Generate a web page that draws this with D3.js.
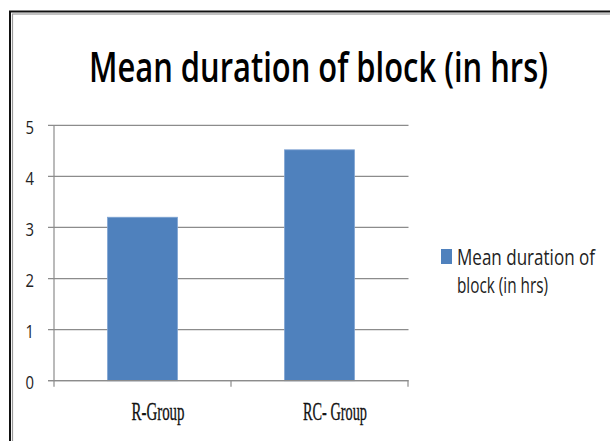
<!DOCTYPE html>
<html>
<head>
<meta charset="utf-8">
<script src="https://cdn.jsdelivr.net/npm/d3@7"></script>
<style>
  body { margin: 0; background: #fff; }
  svg { display: block; }
  text { font-variant-ligatures: none; }
</style>
</head>
<body>
<svg id="chart" width="610" height="441"></svg>
<script>
// data
var categories = ["R-Group", "RC- Group"]
var values = [3.2, 4.52]
var yTicks = [0, 1, 2, 3, 4, 5]
var titleText = "Mean duration of block (in hrs)"
var legendLines = ["Mean duration of", "block (in hrs)"]

var svg = d3.select("svg#chart")
var barColor = "#4f81bd"
var gridColor = "#8c8c8c"
var sans = "'Open Sans', Lato, sans-serif"

// frame (double line, runs off the right and bottom edge)
svg.append("rect")
    .attr("x", 10).attr("y", 11.5)
    .attr("width", 640).attr("height", 460)
    .attr("fill", "none").attr("stroke", "#111").attr("stroke-width", 2)
svg.append("rect")
    .attr("x", 12.5).attr("y", 14)
    .attr("width", 640).attr("height", 460)
    .attr("fill", "none").attr("stroke", "#9a9a9a").attr("stroke-width", 1.2)

// title
svg.append("text")
    .attr("x", 89).attr("y", 81.5)
    .attr("font-family", sans)
    .attr("font-weight", 600)
    .attr("font-size", 42)
    .attr("fill", "#000")
    .attr("textLength", 459)
    .attr("lengthAdjust", "spacingAndGlyphs")
    .text(titleText)

var y = d3.scaleLinear().domain([0, 5]).range([380.7, 125.3])
var x = d3.scaleBand().domain(categories).range([54, 408])
    .paddingInner(0.605).paddingOuter(0.3025)

// gridlines + y labels
var grid = svg.append("g")
grid.selectAll("line.grid")
    .data(yTicks).enter()
    .append("line")
    .attr("class", "grid")
    .attr("x1", 48).attr("x2", 408.5)
    .attr("y1", function(d){ return y(d); })
    .attr("y2", function(d){ return y(d); })
    .attr("stroke", gridColor)
    .attr("stroke-width", 1.2)

grid.selectAll("text.ylab")
    .data(yTicks).enter()
    .append("text")
    .attr("class", "ylab")
    .attr("x", 34).attr("y", function(d){ return y(d) + 8.5; })
    .attr("text-anchor", "end")
    .attr("font-family", sans)
    .attr("font-size", 19)
    .attr("fill", "#222")
    .attr("textLength", 8.5)
    .attr("lengthAdjust", "spacingAndGlyphs")
    .text(function(d){ return d; })

// y axis line
svg.append("line")
    .attr("x1", 54).attr("x2", 54)
    .attr("y1", y(5)).attr("y2", y(0))
    .attr("stroke", gridColor).attr("stroke-width", 1.2)

// bars
svg.selectAll("rect.bar")
    .data(values).enter()
    .append("rect")
    .attr("class", "bar")
    .attr("x", function(d, i){ return x(categories[i]); })
    .attr("y", function(d){ return y(d); })
    .attr("width", x.bandwidth())
    .attr("height", function(d){ return y(0) - y(d); })
    .attr("fill", barColor)
    .attr("stroke", "#7fa3d3")
    .attr("stroke-width", 0.8)

// x axis with ticks at band boundaries
var xAxis = svg.append("g")
xAxis.append("line")
    .attr("x1", 48).attr("x2", 408.5)
    .attr("y1", y(0)).attr("y2", y(0))
    .attr("stroke", gridColor).attr("stroke-width", 1.2)
var bounds = [54].concat(categories.map(function(c){ return x(c) + x.bandwidth() + x.step() * x.paddingInner() / 2; }))
xAxis.selectAll("line.tick")
    .data(bounds).enter()
    .append("line")
    .attr("class", "tick")
    .attr("x1", function(d){ return d; })
    .attr("x2", function(d){ return d; })
    .attr("y1", y(0)).attr("y2", y(0) + 6)
    .attr("stroke", gridColor).attr("stroke-width", 1.2)

var labelWidths = [53, 64]
xAxis.selectAll("text.xlab")
    .data(categories).enter()
    .append("text")
    .attr("class", "xlab")
    .attr("x", function(d){ return x(d) + x.bandwidth() / 2 + 15.5; })
    .attr("y", 420)
    .attr("text-anchor", "middle")
    .attr("font-family", "'Liberation Serif', 'DejaVu Serif', serif")
    .attr("font-size", 25)
    .attr("fill", "#111")
    .attr("stroke", "#111").attr("stroke-width", 0.3)
    .attr("textLength", function(d, i){ return labelWidths[i]; })
    .attr("lengthAdjust", "spacingAndGlyphs")
    .text(function(d){ return d; })

// legend
var legend = svg.append("g")
legend.append("rect")
    .attr("x", 441).attr("y", 249)
    .attr("width", 11).attr("height", 15)
    .attr("fill", barColor)
var legendLens = [138, 91]
legend.selectAll("text")
    .data(legendLines).enter()
    .append("text")
    .attr("x", 457)
    .attr("y", function(d, i){ return 265 + i * 27.5; })
    .attr("font-family", sans)
    .attr("font-size", 22)
    .attr("fill", "#222")
    .attr("textLength", function(d, i){ return legendLens[i]; })
    .attr("lengthAdjust", "spacingAndGlyphs")
    .text(function(d){ return d; })
</script>
</body>
</html>
